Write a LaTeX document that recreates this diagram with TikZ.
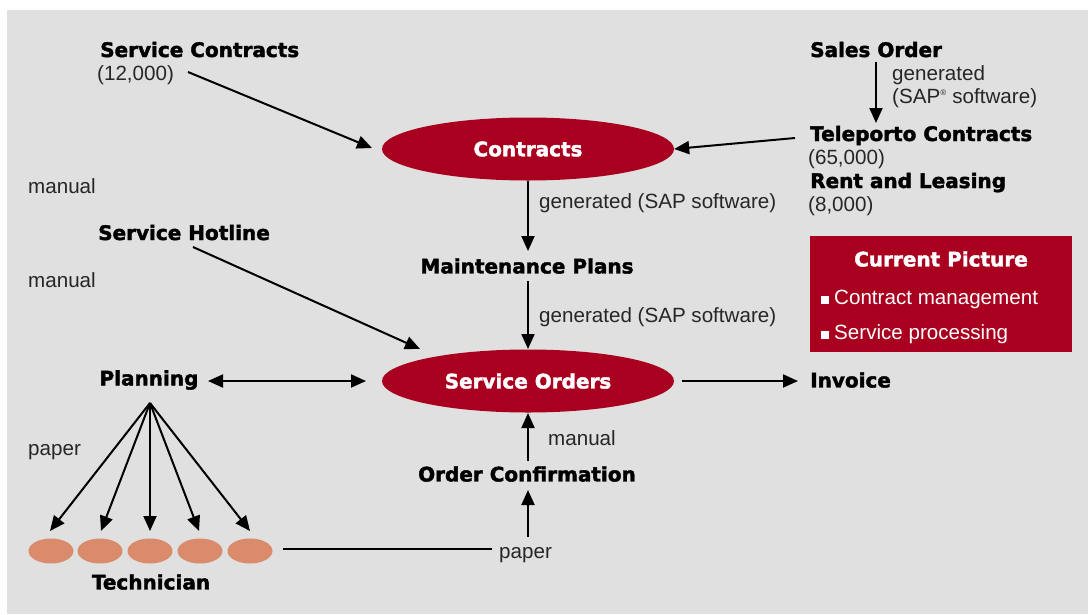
\documentclass[tikz,border=0pt]{standalone}
\usepackage{fontspec}
\setmainfont{Liberation Sans}
\newfontfamily\heavy[BoldFeatures={FakeBold=2}]{DejaVu Sans}
\usetikzlibrary{arrows.meta,shapes.geometric}
\definecolor{bg}{HTML}{E0E0E0}
\definecolor{sapred}{HTML}{A8001E}
\definecolor{tech}{HTML}{D98B6B}
\tikzset{
  hv/.style={font=\heavy\bfseries\fontsize{20}{23}\selectfont, inner sep=0pt, text=black},
  rg/.style={font=\fontsize{20.6}{24}\selectfont, inner sep=0pt, text=black!85},
  redell/.style={ellipse, fill=sapred, minimum width=292pt, minimum height=63pt, inner sep=0pt,
     font=\heavy\bfseries\fontsize{20}{23}\selectfont, text=white},
  techell/.style={ellipse, fill=tech, minimum width=45pt, minimum height=25pt, inner sep=0pt},
  arr/.style={line width=2pt, -{Triangle[length=15pt,width=13pt]}},
  darr/.style={line width=2pt, {Triangle[length=15pt,width=13pt]}-{Triangle[length=15pt,width=13pt]}},
  ln/.style={line width=2pt}
}
\begin{document}
\begin{tikzpicture}[x=1pt,y=-1pt]
\useasboundingbox (0,0) rectangle (1088,614);
\fill[bg] (7,10) rectangle (1088,614);

% red ellipses
\node[redell] (contracts) at (528,149) {Contracts};
\node[redell] (sorders) at (528,381) {Service Orders};

% top left
\node[hv, anchor=base west] (sc) at (100,57) {Service Contracts};
\node[rg, anchor=base west] (sc12) at (97,80) {(12,000)};
\coordinate (scA) at (188,72);
\coordinate (scB) at (372,148);
\draw[arr] (scA) -- (scB);

% top right
\node[hv, anchor=base west] (so) at (810,57) {Sales Order};
\node[rg, anchor=base west] (gen0) at (892,80) {generated};
\node[rg, anchor=base west] (gen0b) at (892,103) {(SAP\textsuperscript{\fontsize{8}{9}\selectfont ®} software)};
\coordinate (soA) at (876,62);
\coordinate (soB) at (876,123);
\draw[arr] (soA) -- (soB);
\node[hv, anchor=base west] (tc) at (810,141) {Teleporto Contracts};
\node[rg, anchor=base west] (tc65) at (808,164) {(65,000)};
\node[hv, anchor=base west] (rl) at (810,188) {Rent and Leasing};
\node[rg, anchor=base west] (rl8) at (808,211) {(8,000)};
\coordinate (tcA) at (795,138);
\draw[arr] (tcA) -- (contracts.east);

% left column
\node[rg, anchor=base west] (man1) at (28,193) {manual};
\node[hv, anchor=base west] (sh) at (98,240) {Service Hotline};
\node[rg, anchor=base west] (man2) at (28,287) {manual};
\coordinate (shA) at (193,247);
\coordinate (shB) at (420,349);
\draw[arr] (shA) -- (shB);

% middle column
\node[rg, anchor=base west] (gen1) at (539,208) {generated (SAP software)};
\node[hv] (mp) at (527,266) {Maintenance Plans};
\coordinate (c2) at (528,181);
\coordinate (m1) at (528,251);
\draw[arr] (c2) -- (m1);
\coordinate (m2) at (528,281);
\coordinate (s1) at (528,349);
\draw[arr] (m2) -- (s1);
\node[rg, anchor=base west] (gen2) at (539,322) {generated (SAP software)};

% current picture box
\node[fill=sapred, minimum width=262pt, minimum height=116pt, inner sep=0pt, anchor=north west] (box) at (810,236) {};
\node[hv, text=white] (cpt) at (941,259) {Current Picture};
\node[rg, text=white, anchor=base west] (b1) at (821,304) {\rule{8pt}{8pt}\hspace{5pt}Contract management};
\node[rg, text=white, anchor=base west] (b2) at (821,339) {\rule{8pt}{8pt}\hspace{5pt}Service processing};

% planning & invoice
\node[hv] (plan) at (149,380) {Planning};
\coordinate (pA) at (208,381);
\coordinate (pB) at (366,381);
\draw[darr] (pA) -- (pB);
\node[hv, anchor=west] (inv) at (810,380) {Invoice};
\coordinate (iA) at (682,381);
\coordinate (iB) at (798,381);
\draw[arr] (iA) -- (iB);

% fan
\coordinate (apex) at (150,403);
\node[rg, anchor=base west] (pap1) at (28,455) {paper};
\node[techell] (t1) at (51,551) {};
\node[techell] (t2) at (100,551) {};
\node[techell] (t3) at (150,551) {};
\node[techell] (t4) at (200,551) {};
\node[techell] (t5) at (250,551) {};
\coordinate (e1) at (50,531);
\coordinate (e2) at (101,531);
\coordinate (e3) at (150,531);
\coordinate (e4) at (199,531);
\coordinate (e5) at (250,531);
\foreach \e in {e1,e2,e3,e4,e5} \draw[arr] (apex) -- (\e);
\node[hv] (techn) at (151,582) {Technician};

% bottom path
\node[rg, anchor=base west] (pap2) at (499,558) {paper};
\coordinate (lA) at (283,549);
\coordinate (lB) at (492,549);
\draw[ln] (lA) -- (lB);
\node[hv] (oc) at (527,474) {Order Confirmation};
\coordinate (oA) at (528,537);
\coordinate (oB) at (528,490);
\draw[arr] (oA) -- (oB);
\coordinate (o2A) at (528,461);
\coordinate (o2B) at (528,413);
\draw[arr] (o2A) -- (o2B);
\node[rg, anchor=base west] (man3) at (548,445) {manual};
\end{tikzpicture}
\end{document}
